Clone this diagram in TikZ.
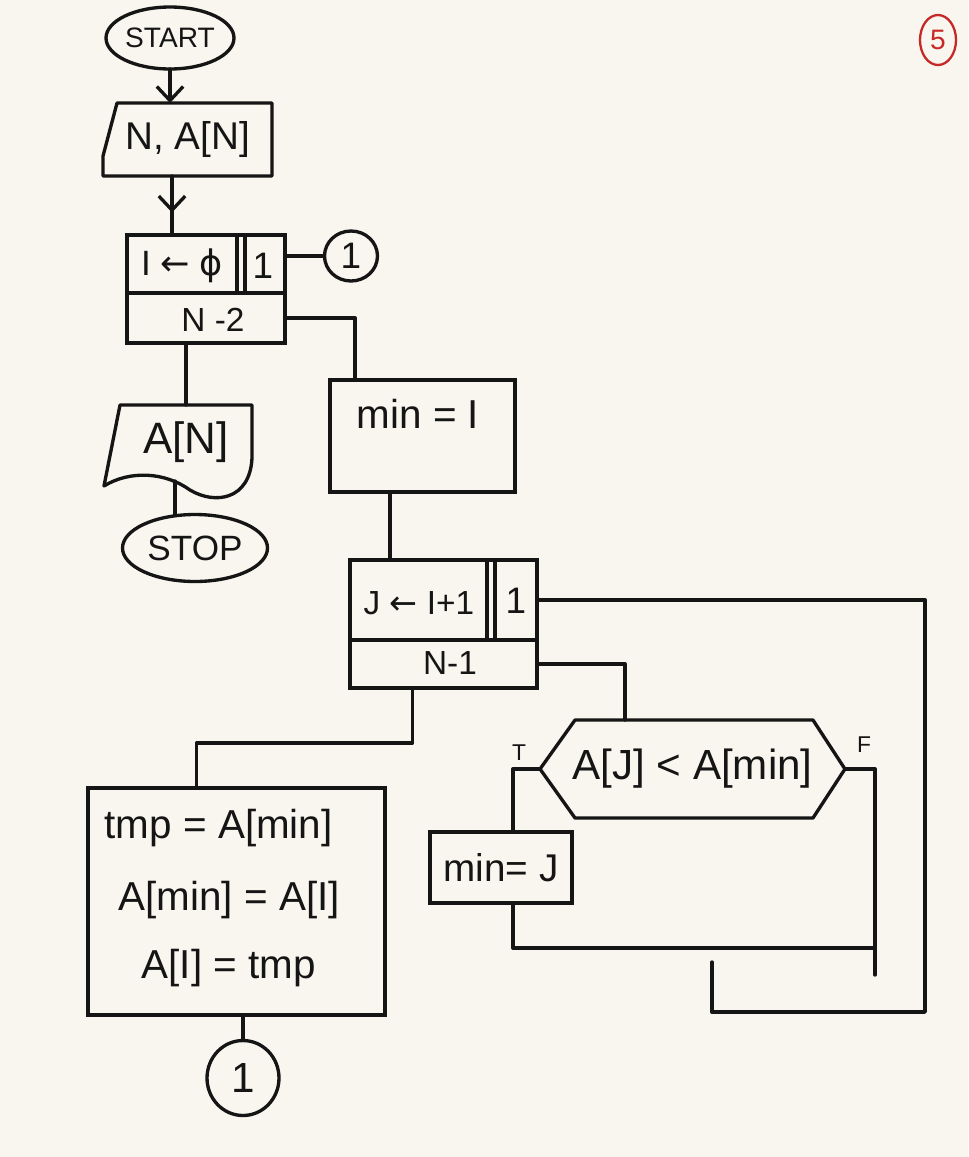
\documentclass[tikz,border=0pt]{standalone}
\usepackage{fontspec}
\setmainfont{Liberation Sans}
\newfontfamily\symf{DejaVu Sans}
\usetikzlibrary{shapes.geometric,arrows.meta,calc,decorations.markings}
\definecolor{bgc}{HTML}{F8F6EE}
\definecolor{ink}{HTML}{151515}
\definecolor{pen}{HTML}{C62828}
\begin{document}
\begin{tikzpicture}[x=0.02cm,y=-0.02cm, line width=1.9pt, color=ink,
  box/.style={draw, rectangle, inner sep=0pt, outer sep=0pt},
  ghost/.style={rectangle, inner sep=0pt, outer sep=0pt},
  term/.style={draw, ellipse, inner sep=0pt, outer sep=0pt},
  conn/.style={draw, ellipse, inner sep=0pt, outer sep=0pt},
  lbl/.style={inner sep=0pt, font=\fontsize{23}{27}\selectfont},
  small/.style={inner sep=0pt, font=\fontsize{13}{15}\selectfont},
  flow/.style={line join=round, line cap=round},
  tip/.style={-{Straight Barb[length=8pt,width=15pt]}}
]
\fill[bgc] (0,0) rectangle (968,1157);
\useasboundingbox (0,0) rectangle (968,1157);

% start and input
\node[term, minimum width=2.56cm, minimum height=1.24cm, font=\fontsize{16}{19}\selectfont] (start) at (170,38) {START};
\node[ghost, minimum width=3.38cm, minimum height=1.46cm, font=\fontsize{22}{26}\selectfont] (inp) at (187.5,139.5) {N, A[N]};
\draw[flow] ($(inp.north west)+(14,0)$) -- (inp.north east) -- (inp.south east) -- (inp.south west) -- ($(inp.south west)+(0,-20)$) -- cycle;
\draw[flow, tip] (start.south) -- (start.south |- inp.north);

% outer loop I
\node[box, minimum width=3.16cm, minimum height=1.16cm] (l1top) at (206,264) {};
\node[box, minimum width=3.16cm, minimum height=1.0cm, anchor=north] (l1bot) at (l1top.south) {};
\draw ($(l1top.north west)+(110,0)$) -- ($(l1top.south west)+(110,0)$);
\draw ($(l1top.north west)+(118,0)$) -- ($(l1top.south west)+(118,0)$);
\node[lbl, font=\fontsize{20}{24}\selectfont] (l1init) at (182,266) {I {\symf ←} {\symf ϕ}};
\node[lbl, font=\fontsize{21}{25}\selectfont] (l1step) at (263,266) {1};
\node[lbl, font=\fontsize{19}{23}\selectfont] (l1end) at (213,320) {N -2};
\draw[flow, postaction={decorate}, decoration={markings, mark=at position 0.62 with {\arrow{Straight Barb[length=8pt,width=15pt]}}}] (inp.south -| 172,0) -- (l1top.north -| 172,0);

\node[conn, minimum width=1.06cm, minimum height=1.0cm, font=\fontsize{21}{25}\selectfont] (c1) at (351,256) {1};
\draw[flow] (l1top.east |- c1.west) -- (c1.west);

% output and stop
\node[ghost, minimum width=2.64cm, minimum height=1.48cm, font=\fontsize{25}{29}\selectfont] (outp) at (186,442) {A[N]};
\draw[flow] (120,405) -- (252,405) -- (252,458) .. controls (250,500) and (215,505) .. (190,490) .. controls (165,472) and (130,470) .. (104,486) -- cycle;
\draw[flow] (outp.north |- l1bot.south) -- (outp.north);
\node[term, minimum width=2.9cm, minimum height=1.34cm, font=\fontsize{20}{24}\selectfont] (stop) at (195,548) {STOP};
\coordinate (w1) at (175,481);
\draw[flow] (w1) -- (w1 |- stop.north);

% min = I
\node[box, minimum width=3.7cm, minimum height=2.24cm] (minI) at (422.5,436) {};
\node[lbl] (minItxt) at (418,414) {min = I};
\coordinate (mIin) at ($(minI.north west)+(25,0)$);
\draw[flow] (l1bot.east) -| (mIin);

% inner loop J
\node[box, minimum width=3.74cm, minimum height=1.6cm] (l2top) at (443.5,600) {};
\node[box, minimum width=3.74cm, minimum height=0.96cm, anchor=north] (l2bot) at (l2top.south) {};
\draw ($(l2top.north west)+(137,0)$) -- ($(l2top.south west)+(137,0)$);
\draw ($(l2top.north west)+(145,0)$) -- ($(l2top.south west)+(145,0)$);
\node[lbl, font=\fontsize{19}{23}\selectfont] (l2init) at (419,603) {J {\symf ←} I+1};
\node[lbl, font=\fontsize{21}{25}\selectfont] (l2step) at (516,601) {1};
\node[lbl, font=\fontsize{19}{23}\selectfont] (l2end) at (450,663) {N-1};
\coordinate (mIout) at ($(minI.south west)+(60,0)$);
\draw[flow] (mIout) -- (mIout |- l2top.north);

% return of loop J
\coordinate (oc) at (712,962);
\draw[flow] (l2top.east) -| (925,1012) -| (oc);

% decision
\node[ghost, minimum width=6.1cm, minimum height=1.96cm, font=\fontsize{24}{28}\selectfont] (dec) at (692.5,769) {A[J] < A[min]};
\draw[flow] (dec.west) -- ($(dec.north west)+(35,0)$) -- ($(dec.north east)+(-32,0)$) -- (dec.east) -- ($(dec.south east)+(-32,0)$) -- ($(dec.south west)+(35,0)$) -- cycle;
\coordinate (dtop) at ($(dec.north west)+(85,0)$);
\draw[flow] (l2bot.east) -| (dtop);
\node[small] (tl) at (519,753) {T};
\node[small] (fl) at (864,745) {F};

% min = J
\node[box, minimum width=2.84cm, minimum height=1.42cm, font=\fontsize{22}{26}\selectfont] (minJ) at (501,867.5) {min= J};
\coordinate (mJin) at ($(minJ.north)+(12,0)$);
\draw[flow] (dec.west) -| (mJin);
\coordinate (fend) at (875,975);
\draw[flow] (dec.east) -| (fend);
\coordinate (join) at (875,948);
\coordinate (mJout) at ($(minJ.south)+(12,0)$);
\draw[flow] (mJout) |- (join);

% swap block
\node[box, minimum width=5.94cm, minimum height=4.54cm] (tmp) at (236.5,901.5) {};
\node[lbl, anchor=west] (t1) at (103,828) {tmp = A[min]};
\node[lbl, anchor=west] (t2) at (117,900) {A[min] = A[I]};
\node[lbl, anchor=west] (t3) at (140,968) {A[I] = tmp};
\coordinate (l2b) at ($(l2bot.south)+(-31,0)$);
\coordinate (tmpin) at ($(tmp.north)+(-40,0)$);
\draw[flow] (l2b) -- ($(l2b)+(0,55)$) -| (tmpin);

\node[conn, minimum width=1.44cm, minimum height=1.5cm, font=\fontsize{24}{28}\selectfont] (c1b) at (243,1078) {1};
\draw[flow] (c1b.north |- tmp.south) -- (c1b.north);

% page number
\node[draw=pen, ellipse, text=pen, inner sep=0pt, minimum width=0.72cm, minimum height=1.0cm, line width=1.3pt, font=\fontsize{16}{18}\selectfont] (page) at (938,40) {5};
\end{tikzpicture}
\end{document}
